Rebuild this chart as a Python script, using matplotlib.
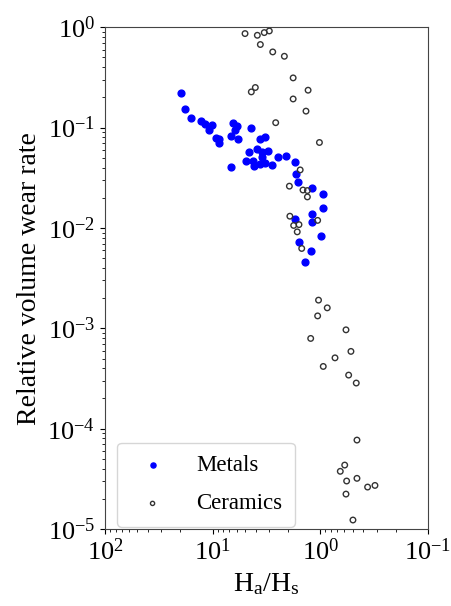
import matplotlib
matplotlib.use("Agg")
import matplotlib.pyplot as plt

plt.rcParams['font.family'] = ['Liberation Serif', 'DejaVu Serif']
plt.rcParams['mathtext.fontset'] = 'custom'
plt.rcParams['mathtext.rm'] = 'Liberation Serif'
plt.rcParams['mathtext.it'] = 'Liberation Serif:italic'

# Metals: Ha/Hs and relative volume wear rate
metals_x = [19.8, 18.2, 15.8, 12.8, 11.7, 10.1, 10.9, 9.26, 8.80, 8.74,
            6.44, 5.99, 6.21, 6.72, 5.78, 4.38, 6.81, 3.61, 3.29, 3.88,
            4.63, 3.51, 3.07, 3.46, 4.94, 4.25, 4.16, 3.66, 3.29, 2.80,
            2.46, 2.09, 1.72, 1.70, 1.62, 1.19, 0.94, 0.95, 1.19, 1.73,
            1.20, 0.99, 1.58, 1.22, 1.38]
metals_y = [0.222, 0.155, 0.124, 0.117, 0.108, 0.106, 0.094, 0.0790, 0.0779, 0.0695,
            0.112, 0.103, 0.094, 0.0834, 0.0771, 0.0993, 0.0406, 0.0766, 0.0802, 0.0614,
            0.0569, 0.0569, 0.0582, 0.0504, 0.0463, 0.0460, 0.0413, 0.0435, 0.0445, 0.0429,
            0.0504, 0.0527, 0.0452, 0.0349, 0.0286, 0.0253, 0.0217, 0.0157, 0.0137, 0.0123,
            0.0114, 0.00828, 0.00722, 0.00591, 0.00460]

# Ceramics
ceramics_x = [5.01, 3.85, 3.32, 2.98, 3.61, 2.77, 2.16, 1.79, 1.30, 4.02,
              4.38, 1.79, 1.36, 2.60, 1.02, 1.54, 1.94, 1.45, 1.32, 1.32,
              1.92, 1.77, 1.58, 1.64, 1.06, 1.49, 1.04, 0.863, 1.06, 0.578,
              1.23, 0.520, 0.731, 0.94, 0.546, 0.464, 0.457, 0.594, 0.653, 0.570,
              0.457, 0.364, 0.311, 0.578, 0.498]
ceramics_y = [0.865, 0.832, 0.885, 0.919, 0.673, 0.568, 0.514, 0.313, 0.236, 0.251,
              0.227, 0.193, 0.146, 0.112, 0.0711, 0.0379, 0.0261, 0.0239, 0.0236, 0.0204,
              0.0131, 0.0106, 0.0108, 0.00915, 0.0119, 0.00625, 0.00191, 0.00160, 0.00133, 0.000966,
              0.000793, 0.000589, 0.000508, 0.000417, 0.000342, 0.000285, 7.70e-5, 4.34e-5, 3.76e-5, 3.01e-5,
              3.20e-5, 2.62e-5, 2.72e-5, 2.23e-5, 1.23e-5]

fig = plt.figure(figsize=(4.51, 6.06), dpi=100)
ax = fig.add_axes([0.233, 0.127, 0.716, 0.828])

ax.scatter(metals_x, metals_y, s=24, color='blue', label='Metals', zorder=3)
ax.scatter(ceramics_x, ceramics_y, s=16, facecolors='none', edgecolors='#333333',
           linewidths=1.0, label='Ceramics', zorder=3)

ax.set_xscale('log')
ax.set_yscale('log')
ax.set_xlim(100, 0.1)
ax.set_ylim(1e-5, 1)

ax.tick_params(labelsize=19)
ax.set_xlabel(r'H$_\mathrm{a}$/H$_\mathrm{s}$', fontsize=20)
ax.set_ylabel('Relative volume wear rate', fontsize=20)

for sp in ax.spines.values():
    sp.set_color('#444444')

ax.legend(loc='lower left', bbox_to_anchor=(0.037, 0.004), borderaxespad=0,
          fontsize=16.5, markerscale=0.75, handletextpad=0.9,
          borderpad=0.55, labelspacing=0.75)

fig.savefig('out.png', dpi=100)
